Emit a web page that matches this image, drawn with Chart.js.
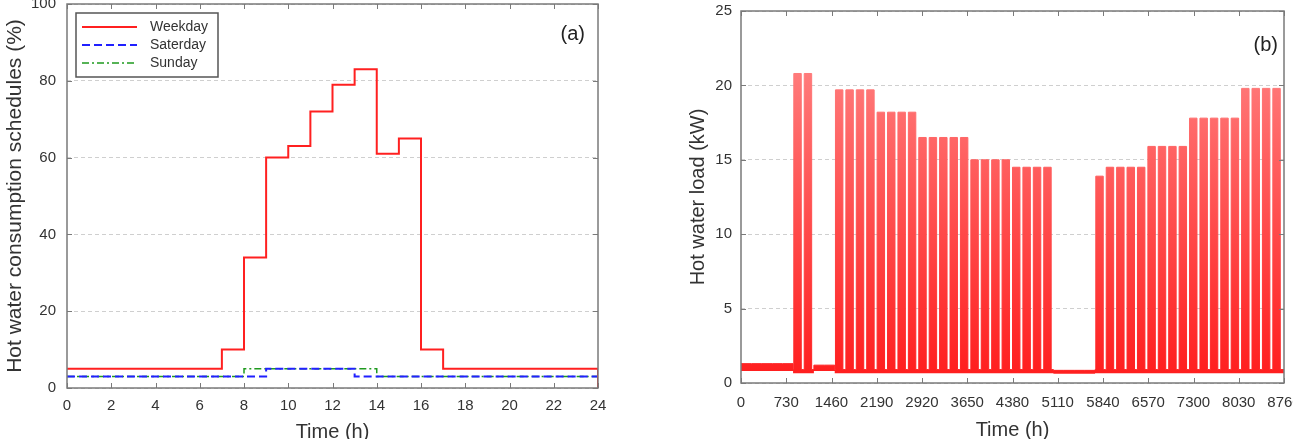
<!DOCTYPE html>
<html lang="en">
<head>
<meta charset="UTF-8">
<title>Hot water schedules and load</title>
<script src="https://cdn.jsdelivr.net/npm/chart.js"></script>
<style>
  body { margin: 0; background: #fff; }
  canvas { position: absolute; top: 0; }
  #scheduleChart { left: 0; }
  #loadChart { left: 650px; }
</style>
</head>
<body>
<canvas id="scheduleChart" width="640" height="439"></canvas>
<canvas id="loadChart" width="643" height="439"></canvas>
<script>
// (a) daily schedules (%), each value held from that hour to the next
const hours    = [0,1,2,3,4,5,6,7,8,9,10,11,12,13,14,15,16,17,18,19,20,21,22,23,24];
const weekday  = [5,5,5,5,5,5,5,10,34,60,63,72,79,83,61,65,10,5,5,5,5,5,5,5,0];
const saturday = [3,3,3,3,3,3,3,3,3,5,5,5,5,3,3,3,3,3,3,3,3,3,3,3,0];
const sunday   = [3,3,3,3,3,3,3,3,5,5,5,5,5,5,3,3,3,3,3,3,3,3,3,3,0];

// (b) yearly load (kW), week by week (52 weeks of 168 h)
const weekHours = 168;
const yearHours = 8760;
const workStart = 12;   // hour in the week where the weekday load starts
const workEnd = 132;    // hour in the week where it stops
const weekPeak = [
  1.3, 1.3, 1.3, 1.3, 1.3, 20.8, 20.8, 1.2, 1.2,
  19.7, 19.7, 19.7, 19.7, 18.2, 18.2, 18.2, 18.2,
  16.5, 16.5, 16.5, 16.5, 16.5, 15.0, 15.0, 15.0, 15.0,
  14.5, 14.5, 14.5, 14.5, 0.85, 0.85, 0.85, 0.85,
  13.9, 14.5, 14.5, 14.5, 14.5, 15.9, 15.9, 15.9, 15.9,
  17.8, 17.8, 17.8, 17.8, 17.8, 19.8, 19.8, 19.8, 19.8
];
const weekFloor = [
  0.8, 0.8, 0.8, 0.8, 0.8, 0.65, 0.65, 0.8, 0.8,
  0.65, 0.65, 0.65, 0.65, 0.65, 0.65, 0.65, 0.65,
  0.65, 0.65, 0.65, 0.65, 0.65, 0.65, 0.65, 0.65, 0.65,
  0.65, 0.65, 0.65, 0.65, 0.62, 0.62, 0.62, 0.62,
  0.65, 0.65, 0.65, 0.65, 0.65, 0.65, 0.65, 0.65, 0.65,
  0.65, 0.65, 0.65, 0.65, 0.65, 0.65, 0.65, 0.65, 0.65
];
const holidayWeeks = [0, 1, 2, 3, 4, 7, 8, 30, 31, 32, 33];
const weekendLoad = 0.9;

const FONT = '"Liberation Sans", Arial, sans-serif';
const TEXT = '#333';

function toPoints(xs, ys) {
  return xs.map((x, i) => ({ x: x, y: ys[i] }));
}

// load trace: top and bottom of the band drawn for each week
const upper = [], lower = [];
weekPeak.forEach((peak, k) => {
  const t0 = k * weekHours;
  const floor = weekFloor[k];
  if (holidayWeeks.includes(k)) {
    upper.push({ x: t0, y: peak });
    lower.push({ x: t0, y: floor });
  } else {
    upper.push({ x: t0, y: weekendLoad }, { x: t0 + workStart, y: peak }, { x: t0 + workEnd, y: weekendLoad });
    lower.push({ x: t0, y: floor }, { x: t0 + workStart, y: floor }, { x: t0 + workEnd, y: floor });
  }
});
upper.push({ x: yearHours, y: weekendLoad });
lower.push({ x: yearHours, y: weekFloor[weekFloor.length - 1] });

// box round the plot, inward ticks on all four sides, panel letter
const frame = {
  id: 'frame',
  afterDraw(chart, args, opts) {
    const { ctx, chartArea: a } = chart;
    const { x, y } = chart.scales;
    ctx.save();
    ctx.strokeStyle = '#7a7a7a';
    ctx.lineWidth = 1;
    ctx.beginPath();
    x.ticks.forEach(t => {
      const px = Math.round(x.getPixelForValue(t.value)) + 0.5;
      ctx.moveTo(px, a.bottom); ctx.lineTo(px, a.bottom - 5);
      ctx.moveTo(px, a.top); ctx.lineTo(px, a.top + 5);
    });
    y.ticks.forEach(t => {
      const py = Math.round(y.getPixelForValue(t.value)) + 0.5;
      ctx.moveTo(a.left, py); ctx.lineTo(a.left + 5, py);
      ctx.moveTo(a.right, py); ctx.lineTo(a.right - 5, py);
    });
    ctx.stroke();
    ctx.lineWidth = 1.5;
    ctx.strokeRect(a.left, a.top, a.right - a.left, a.bottom - a.top);
    ctx.fillStyle = '#222';
    ctx.font = '20px ' + FONT;
    ctx.textAlign = 'right';
    ctx.textBaseline = 'middle';
    ctx.fillText(opts.text, a.right - opts.dx, a.top + opts.dy);
    ctx.restore();
  }
};

// legend box in the top left corner of (a)
const boxLegend = {
  id: 'boxLegend',
  afterDatasetsDraw(chart) {
    const { ctx, chartArea: a } = chart;
    const x0 = a.left + 9, y0 = a.top + 9, w = 142, h = 64;
    ctx.save();
    ctx.fillStyle = '#fff';
    ctx.fillRect(x0, y0, w, h);
    ctx.strokeStyle = '#555';
    ctx.lineWidth = 1.5;
    ctx.strokeRect(x0, y0, w, h);
    ctx.font = '14px ' + FONT;
    ctx.textAlign = 'left';
    ctx.textBaseline = 'middle';
    chart.data.datasets.forEach((ds, i) => {
      const yy = y0 + 14 + i * 18;
      ctx.strokeStyle = ds.borderColor;
      ctx.lineWidth = ds.borderWidth;
      ctx.setLineDash(ds.borderDash || []);
      ctx.beginPath();
      ctx.moveTo(x0 + 6, yy);
      ctx.lineTo(x0 + 61, yy);
      ctx.stroke();
      ctx.setLineDash([]);
      ctx.fillStyle = TEXT;
      ctx.fillText(ds.label, x0 + 74, yy);
    });
    ctx.restore();
  }
};

function axisOptions(o) {
  return {
    type: 'linear',
    min: o.min, max: o.max,
    grid: {
      display: o.grid,
      drawTicks: false,
      color: '#cfcfcf',
      lineWidth: 1
    },
    border: { display: false, dash: [4, 3] },
    ticks: {
      stepSize: o.step,
      padding: o.padding,
      color: TEXT,
      autoSkip: false,
      maxRotation: 0,
      font: { family: FONT, size: 15 },
      callback: v => String(v)
    },
    title: {
      display: true,
      text: o.title,
      color: TEXT,
      padding: o.titlePadding,
      font: { family: FONT, size: o.titleSize || 20 }
    },
    afterFit(scale) {
      if (o.width) scale.width = o.width;
      if (o.height) scale.height = o.height;
      scale.paddingLeft = 0; scale.paddingRight = 0;
      scale.paddingTop = 0; scale.paddingBottom = 0;
    }
  };
}

new Chart(document.getElementById('scheduleChart'), {
  type: 'line',
  data: {
    datasets: [
      {
        label: 'Weekday',
        data: toPoints(hours, weekday),
        borderColor: '#ff2020',
        borderWidth: 2,
        stepped: true
      },
      {
        label: 'Saterday',
        data: toPoints(hours, saturday),
        borderColor: '#2020ff',
        borderWidth: 2,
        borderDash: [8, 4],
        stepped: true
      },
      {
        label: 'Sunday',
        data: toPoints(hours, sunday),
        borderColor: '#1f9a1f',
        borderWidth: 1.5,
        borderDash: [7, 3, 2, 3],
        stepped: true
      }
    ]
  },
  options: {
    responsive: false,
    animation: false,
    devicePixelRatio: 1,
    elements: { point: { radius: 0 } },
    layout: { padding: { left: 0, right: 42, top: 4, bottom: 0 } },
    scales: {
      x: axisOptions({ min: 0, max: 24, step: 2, grid: false, padding: 9,
        title: 'Time (h)', titlePadding: { top: 0, bottom: -5 }, height: 51 }),
      y: axisOptions({ min: 0, max: 100, step: 20, grid: true, padding: 11,
        title: 'Hot water consumption schedules (%)', titleSize: 21,
        titlePadding: { top: 3, bottom: 0 }, width: 67 })
    },
    plugins: {
      legend: { display: false },
      tooltip: { enabled: false },
      frame: { text: '(a)', dx: 13, dy: 30 }
    }
  },
  plugins: [frame, boxLegend]
});

function loadColour(context) {
  const { ctx, chartArea } = context.chart;
  if (!chartArea) return '#ff4040';
  const g = ctx.createLinearGradient(0, chartArea.top, 0, chartArea.bottom);
  g.addColorStop(0, '#ff9090');
  g.addColorStop(0.25, '#ff7070');
  g.addColorStop(1, '#ff1c1c');
  return g;
}

new Chart(document.getElementById('loadChart'), {
  type: 'line',
  data: {
    datasets: [
      {
        label: 'Hot water load',
        data: upper,
        borderColor: loadColour,
        backgroundColor: loadColour,
        borderWidth: 1,
        stepped: true,
        fill: '+1'
      },
      {
        label: 'floor',
        data: lower,
        borderColor: 'rgba(0,0,0,0)',
        borderWidth: 0,
        stepped: true,
        fill: false
      }
    ]
  },
  options: {
    responsive: false,
    animation: false,
    devicePixelRatio: 1,
    elements: { point: { radius: 0 } },
    layout: { padding: { left: 36, right: 9, top: 11, bottom: 0 } },
    scales: {
      x: axisOptions({ min: 0, max: yearHours, step: 730, grid: false, padding: 11,
        title: 'Time (h)', titlePadding: { top: 0, bottom: -3 }, height: 56 }),
      y: axisOptions({ min: 0, max: 25, step: 5, grid: true, padding: 9,
        title: 'Hot water load (kW)', titlePadding: { top: 0, bottom: 0 }, width: 55 })
    },
    plugins: {
      legend: { display: false },
      tooltip: { enabled: false },
      frame: { text: '(b)', dx: 6, dy: 34 }
    }
  },
  plugins: [frame]
});
</script>
</body>
</html>
